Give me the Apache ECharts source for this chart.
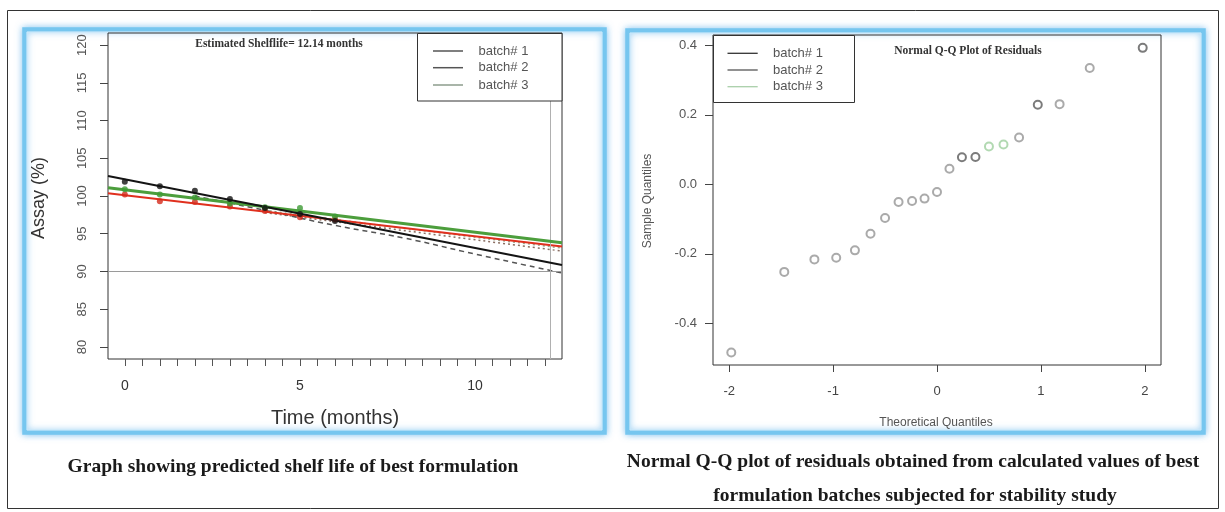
<!DOCTYPE html>
<html>
<head>
<meta charset="utf-8">
<script src="https://cdn.jsdelivr.net/npm/echarts@6/dist/echarts.min.js"></script>
<style>
html,body{margin:0;padding:0;background:#fff;}
#c{width:1225px;height:512px;}
</style>
</head>
<body>
<div id="c"></div>
<script>
// ---------- Left chart: predicted shelf life ----------
const months = [0, 1, 2, 3, 4, 5, 6];
const assayBatch1 = [101.9, 101.3, 100.7, 99.6, 98.4, 97.6, 96.7];
const assayBatch2 = [100.2, 99.3, 99.2, 98.6, 98.0, 97.2, 96.9];
const assayBatch3 = [100.9, 100.2, 99.8, 99.0, 98.5, 98.4, 97.3];
const fitBatch1 = [[-0.48, 102.66], [12.48, 90.86]];
const fitBatch2 = [[-0.48, 100.35], [12.48, 93.3]];
const fitBatch3 = [[-0.48, 101.1], [12.48, 93.8]];
const lowerBatch1 = [[2, 100.0], [4, 98.1], [6, 96.1], [8, 94.4], [10, 92.3], [12.48, 89.8]];
const lowerBatch2 = [[4, 97.8], [8, 95.4], [12.48, 92.7]];
const lowerBatch3 = [[4, 98.1], [8, 95.7], [12.48, 93.1]];
const specLimit = 90;
const shelfLife = 12.14;
const xLabelsLeft = [0, 5, 10];
const xTicksLeft = [0, 0.5, 1, 1.5, 2, 2.5, 3, 3.5, 4, 4.5, 5, 5.5, 6, 6.5, 7, 7.5, 8, 8.5, 9, 9.5, 10, 10.5, 11, 11.5, 12];
const yTicksLeft = [80, 85, 90, 95, 100, 105, 110, 115, 120];
const batchNames = ['batch# 1', 'batch# 2', 'batch# 3'];

// ---------- Right chart: normal Q-Q plot of residuals ----------
const theoreticalQ = [-1.98, -1.47, -1.18, -0.97, -0.79, -0.64, -0.50, -0.37, -0.24, -0.12, 0.00,
                      0.12, 0.24, 0.37, 0.50, 0.64, 0.79, 0.97, 1.18, 1.47, 1.98];
const sampleQ = [-0.484, -0.252, -0.216, -0.211, -0.190, -0.142, -0.097, -0.051, -0.048, -0.041, -0.022,
                 0.045, 0.078, 0.079, 0.109, 0.115, 0.135, 0.229, 0.231, 0.335, 0.393];
const qqBatch = [2, 2, 2, 2, 2, 2, 2, 2, 2, 2, 2, 2, 1, 1, 3, 3, 2, 1, 2, 2, 1];
const xLabelsRight = [-2, -1, 0, 1, 2];
const yLabelsRight = [-0.4, -0.2, 0.0, 0.2, 0.4];

const leftCaption = 'Graph showing predicted shelf life of best formulation';
const rightCaption1 = 'Normal Q-Q plot of residuals obtained from calculated values of best';
const rightCaption2 = 'formulation batches subjected for stability study';

const chart = echarts.init(document.getElementById('c'));
const sans = 'Liberation Sans, Arial, sans-serif';
const serif = 'Liberation Serif, Times New Roman, serif';
const qqColors = {1: '#5a5a5a', 2: '#959595', 3: '#9fd09f'};

function zipPts(xs, ys) { return xs.map((x, i) => [x, ys[i]]); }

const option = {
  animation: false,
  backgroundColor: '#fff',
  grid: [
    {left: 108, top: 33, width: 454, height: 326, show: true, borderColor: '#333', borderWidth: 1, backgroundColor: 'transparent'},
    {left: 713, top: 35, width: 448, height: 330, show: true, borderColor: '#333', borderWidth: 1, backgroundColor: 'transparent'}
  ],
  xAxis: [
    {type: 'value', gridIndex: 0, min: -0.48, max: 12.48, position: 'bottom',
     axisLine: {show: false, onZero: false}, splitLine: {show: false},
     axisTick: {show: true, length: 7, customValues: xTicksLeft, lineStyle: {color: '#555'}},
     axisLabel: {customValues: xLabelsLeft, margin: 20, fontSize: 14, fontFamily: sans, color: '#333'}},
    {type: 'value', gridIndex: 1, min: -2.156, max: 2.156, position: 'bottom',
     axisLine: {show: false, onZero: false}, splitLine: {show: false},
     axisTick: {show: true, length: 7, customValues: xLabelsRight, lineStyle: {color: '#444'}},
     axisLabel: {customValues: xLabelsRight, margin: 20, fontSize: 13, fontFamily: sans, color: '#444'}}
  ],
  yAxis: [
    {type: 'value', gridIndex: 0, min: 78.4, max: 121.6, position: 'left',
     axisLine: {show: false, onZero: false}, splitLine: {show: false},
     axisTick: {show: true, length: 8, customValues: yTicksLeft, lineStyle: {color: '#444'}},
     axisLabel: {customValues: yTicksLeft, rotate: 90, margin: 19, fontSize: 13, fontFamily: sans, color: '#555'}},
    {type: 'value', gridIndex: 1, min: -0.52, max: 0.43, position: 'left',
     axisLine: {show: false, onZero: false}, splitLine: {show: false},
     axisTick: {show: true, length: 8, customValues: yLabelsRight, lineStyle: {color: '#444'}},
     axisLabel: {customValues: yLabelsRight, margin: 16, fontSize: 13, fontFamily: sans, color: '#555',
                 formatter: v => v.toFixed(1)}}
  ],
  series: [
    {type: 'line', xAxisIndex: 0, yAxisIndex: 0, data: [], silent: true,
     markLine: {symbol: 'none', silent: true, label: {show: false},
       data: [{yAxis: specLimit, lineStyle: {color: '#9a9a9a', width: 1, type: 'solid'}},
              {xAxis: shelfLife, lineStyle: {color: '#b0b0b0', width: 1, type: 'solid'}}]}},
    {type: 'line', xAxisIndex: 0, yAxisIndex: 0, data: lowerBatch3, symbol: 'none', smooth: true,
     lineStyle: {color: '#9aa88c', width: 1.5, type: [2, 3]}, z: 3},
    {type: 'line', xAxisIndex: 0, yAxisIndex: 0, data: lowerBatch2, symbol: 'none', smooth: true,
     lineStyle: {color: '#8a6e62', width: 1.5, type: [2, 3]}, z: 3},
    {type: 'line', xAxisIndex: 0, yAxisIndex: 0, data: lowerBatch1, symbol: 'none', smooth: true,
     lineStyle: {color: '#555', width: 1.5, type: [5, 4]}, z: 3},
    {type: 'line', xAxisIndex: 0, yAxisIndex: 0, data: fitBatch2, symbol: 'none',
     lineStyle: {color: '#e0301e', width: 2}, z: 4},
    {type: 'line', xAxisIndex: 0, yAxisIndex: 0, data: fitBatch3, symbol: 'none',
     lineStyle: {color: '#4c9e3c', width: 3}, z: 5},
    {type: 'line', xAxisIndex: 0, yAxisIndex: 0, data: fitBatch1, symbol: 'none',
     lineStyle: {color: '#141414', width: 2}, z: 6},
    {name: batchNames[1], type: 'scatter', xAxisIndex: 0, yAxisIndex: 0, data: zipPts(months, assayBatch2),
     symbolSize: 6, itemStyle: {color: '#d42a1c'}, z: 7},
    {name: batchNames[2], type: 'scatter', xAxisIndex: 0, yAxisIndex: 0, data: zipPts(months, assayBatch3),
     symbolSize: 6, itemStyle: {color: '#3d9a35'}, z: 7},
    {name: batchNames[0], type: 'scatter', xAxisIndex: 0, yAxisIndex: 0, data: zipPts(months, assayBatch1),
     symbolSize: 6, itemStyle: {color: '#111'}, z: 8},
    {type: 'scatter', xAxisIndex: 1, yAxisIndex: 1,
     data: theoreticalQ.map((x, i) => ({value: [x, sampleQ[i]], itemStyle: {color: qqColors[qqBatch[i]]}})),
     symbol: 'emptyCircle', symbolSize: 8, itemStyle: {borderWidth: 1.3}, z: 8}
  ],
  graphic: []
};

const g = option.graphic;
g.push({type: 'rect', shape: {x: 7.5, y: 10.5, width: 1211, height: 498}, style: {fill: 'none', stroke: '#333', lineWidth: 1}, z: 1});
[[24.5, 29.5, 580, 403], [627.5, 30.5, 576, 402]].forEach(r => {
  g.push({type: 'rect', shape: {x: r[0], y: r[1], width: r[2], height: r[3]},
    style: {fill: '#fff', stroke: '#76c6ef', lineWidth: 4.5, shadowBlur: 7, shadowColor: 'rgba(90,175,235,0.7)'}, z: -10});
  g.push({type: 'rect', shape: {x: r[0] + 2.5, y: r[1] + 2.5, width: r[2] - 5, height: r[3] - 5},
    style: {fill: 'none', stroke: '#c8e8fa', lineWidth: 1}, z: -9});
});

g.push({type: 'rect', shape: {x: 417.5, y: 33.5, width: 144.5, height: 67.5}, style: {fill: '#fff', stroke: '#333', lineWidth: 1}, z: 20});
const legL = [['#555', 51], ['#555', 67.7], ['#8c9c8c', 85]];
legL.forEach((it, i) => {
  g.push({type: 'line', shape: {x1: 433, y1: it[1], x2: 463, y2: it[1]}, style: {stroke: it[0], lineWidth: 1.5}, z: 21});
  g.push({type: 'text', x: 478.5, y: it[1], style: {text: batchNames[i], font: '13px ' + sans, fill: '#555', textAlign: 'left', textVerticalAlign: 'middle'}, z: 21});
});
g.push({type: 'rect', shape: {x: 713.5, y: 35.5, width: 141, height: 67}, style: {fill: '#fff', stroke: '#333', lineWidth: 1}, z: 20});
const legR = [['#333', 53.3], ['#555', 70], ['#a9cfa9', 86.7]];
legR.forEach((it, i) => {
  g.push({type: 'line', shape: {x1: 727.5, y1: it[1], x2: 757.7, y2: it[1]}, style: {stroke: it[0], lineWidth: 1.3}, z: 21});
  g.push({type: 'text', x: 773, y: it[1], style: {text: batchNames[i], font: '13px ' + sans, fill: '#555', textAlign: 'left', textVerticalAlign: 'middle'}, z: 21});
});

g.push({type: 'text', x: 279, y: 44, style: {text: 'Estimated Shelflife= 12.14 months', font: 'bold 11.5px ' + serif, fill: '#333', textAlign: 'center', textVerticalAlign: 'middle'}, z: 21});
g.push({type: 'text', x: 968, y: 51, style: {text: 'Normal Q-Q Plot of Residuals', font: 'bold 11.5px ' + serif, fill: '#333', textAlign: 'center', textVerticalAlign: 'middle'}, z: 21});

g.push({type: 'text', x: 39, y: 198, rotation: Math.PI / 2, style: {text: 'Assay (%)', font: '18px ' + sans, fill: '#333', textAlign: 'center', textVerticalAlign: 'middle'}, z: 21});
g.push({type: 'text', x: 335, y: 418, style: {text: 'Time (months)', font: '20px ' + sans, fill: '#333', textAlign: 'center', textVerticalAlign: 'middle'}, z: 21});
g.push({type: 'text', x: 648, y: 201, rotation: Math.PI / 2, style: {text: 'Sample Quantiles', font: '12px ' + sans, fill: '#555', textAlign: 'center', textVerticalAlign: 'middle'}, z: 21});
g.push({type: 'text', x: 936, y: 423, style: {text: 'Theoretical Quantiles', font: '12px ' + sans, fill: '#555', textAlign: 'center', textVerticalAlign: 'middle'}, z: 21});

g.push({type: 'text', x: 293, y: 467, style: {text: leftCaption, font: 'bold 19.5px ' + serif, fill: '#1a1a1a', textAlign: 'center', textVerticalAlign: 'middle'}, z: 21});
g.push({type: 'text', x: 913, y: 462, style: {text: rightCaption1, font: 'bold 19.5px ' + serif, fill: '#1a1a1a', textAlign: 'center', textVerticalAlign: 'middle'}, z: 21});
g.push({type: 'text', x: 915, y: 496, style: {text: rightCaption2, font: 'bold 19.5px ' + serif, fill: '#1a1a1a', textAlign: 'center', textVerticalAlign: 'middle'}, z: 21});

chart.setOption(option);
</script>
</body>
</html>
